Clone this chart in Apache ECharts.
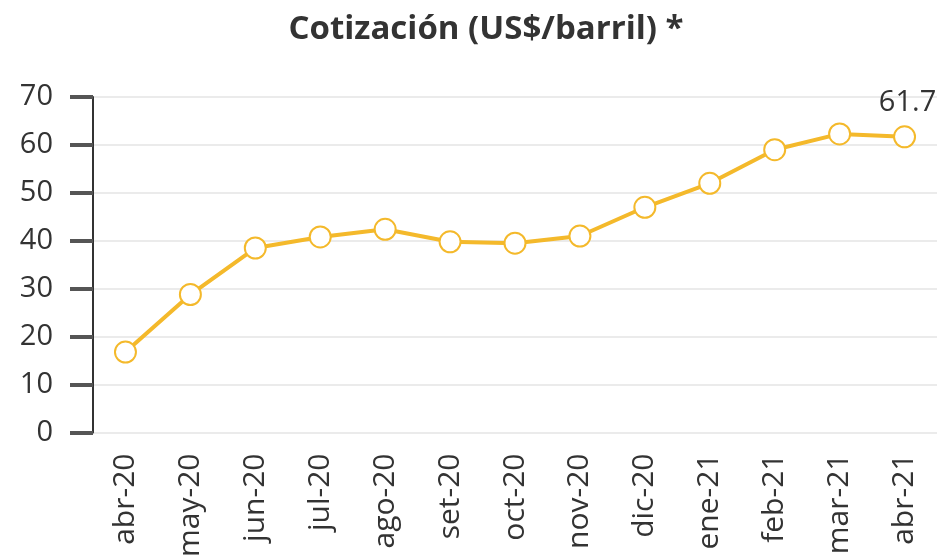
<!DOCTYPE html>
<html><head><meta charset="utf-8">
<script src="https://cdn.jsdelivr.net/npm/echarts@6/dist/echarts.min.js"></script>
<style>html,body{margin:0;padding:0;background:#fff}#c{width:937px;height:560px}</style>
</head><body><div id="c"></div>
<script>
const categories = ['abr-20','may-20','jun-20','jul-20','ago-20','set-20','oct-20','nov-20','dic-20','ene-21','feb-21','mar-21','abr-21'];
const values = [16.8, 28.8, 38.5, 40.8, 42.4, 39.8, 39.5, 41.0, 47.0, 52.0, 59.0, 62.3, 61.7];
const yTicks = [0,10,20,30,40,50,60,70];
const chart = echarts.init(document.getElementById('c'));
const F = '"Open Sans", sans-serif';
chart.setOption({
  animation:false,
  title:{text:'Cotización (US$/barril) *', left:481, top:8, textAlign:'center',
    textStyle:{fontFamily:F, fontWeight:'bold', fontSize:33, color:'#333'}},
  grid:{left:93, right:-4, top:97, bottom:125},
  xAxis:{type:'category', data:categories, boundaryGap:true,
    axisLine:{show:false}, axisTick:{show:false},
    axisLabel:{rotate:90, fontFamily:F, fontSize:30, color:'#333', margin:21}},
  yAxis:{type:'value', min:yTicks[0], max:yTicks[yTicks.length-1], interval:10,
    axisLine:{show:true, lineStyle:{color:'#333', width:2}},
    axisTick:{show:true, length:23, lineStyle:{color:'#555', width:4}},
    axisLabel:{fontFamily:F, fontSize:29, color:'#333', margin:40},
    splitLine:{lineStyle:{color:'#ebebeb', width:2}}},
  series:[{type:'line', data:values.map((v,i)=>i===values.length-1?{value:v,label:{show:true}}:v),
    symbol:'emptyCircle', symbolSize:21,
    lineStyle:{color:'#F4B92B', width:4},
    itemStyle:{color:'#F4B92B', borderWidth:4, borderColor:'#F4B92B'},
    label:{show:false, position:'top', distance:8, fontFamily:F, fontSize:29, color:'#333', offset:[3,0]}}]
});
</script></body></html>
